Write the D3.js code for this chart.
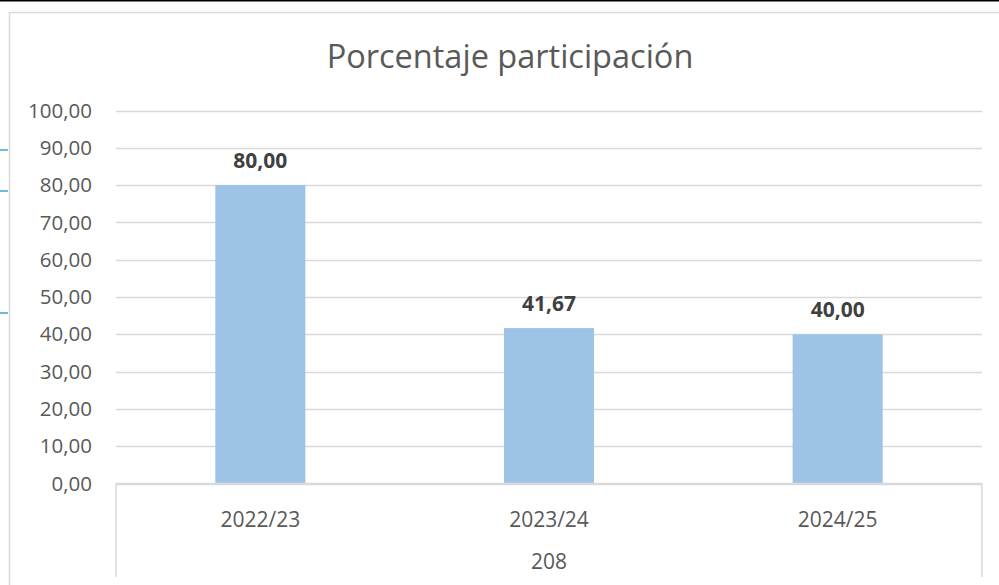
<!DOCTYPE html>
<html>
<head>
<meta charset="utf-8">
<script src="https://d3js.org/d3.v7.min.js"></script>
<style>
  html, body { margin: 0; padding: 0; background: #fff; }
  svg { display: block; }
  text { font-family: "Open Sans", "Noto Sans", sans-serif; }
</style>
</head>
<body>
<svg width="999" height="585"></svg>
<script>
var categories = ["2022/23", "2023/24", "2024/25"];
var values = [80.00, 41.67, 40.00];
var yTicks = [0, 10, 20, 30, 40, 50, 60, 70, 80, 90, 100];
var groupLabel = "208";
var title = "Porcentaje participación";

var svg = d3.select("svg"),
    width = +svg.attr("width"),
    height = +svg.attr("height");

var fmt = function(v) { return d3.format(".2f")(v).replace(".", ","); };

// outer frame bits
svg.append("line")
  .attr("x1", 0).attr("x2", width).attr("y1", 0.5).attr("y2", 0.5)
  .style("stroke", "#000").style("stroke-width", 2);

svg.append("rect")
  .attr("x", 9.5).attr("y", 12.5)
  .attr("width", 1100).attr("height", 700)
  .style("fill", "none").style("stroke", "#d9d9d9").style("stroke-width", 1.5);

[150, 191, 313].forEach(function(yy) {
  svg.append("line")
    .attr("x1", 0).attr("x2", 8).attr("y1", yy).attr("y2", yy)
    .style("stroke", "#41a5d8").style("stroke-width", 1.5);
});

var plotLeft = 116, plotRight = 982, plotTop = 110.5, plotBottom = 483.5;

var x = d3.scaleBand().domain(categories).range([plotLeft, plotRight]).paddingInner(0.688).paddingOuter(0.344);
var y = d3.scaleLinear().domain([0, 100]).range([plotBottom, plotTop]);

// gridlines
svg.append("g")
  .selectAll("line")
  .data(yTicks)
  .enter().append("line")
  .attr("x1", plotLeft).attr("x2", plotRight)
  .attr("y1", function(d) { return Math.round(y(d)) + 0.5; })
  .attr("y2", function(d) { return Math.round(y(d)) + 0.5; })
  .style("stroke", "#d9d9d9").style("stroke-width", 1.5);

// y labels
svg.append("g")
  .selectAll("text")
  .data(yTicks)
  .enter().append("text")
  .attr("x", 92)
  .attr("y", function(d) { return y(d); })
  .attr("dy", "0.35em")
  .attr("text-anchor", "end")
  .style("font-size", "20.5px")
  .style("fill", "#595959")
  .text(fmt);

// bars
svg.append("g")
  .selectAll("rect")
  .data(values)
  .enter().append("rect")
  .attr("x", function(d, i) { return x(categories[i]); })
  .attr("width", x.bandwidth())
  .attr("y", function(d) { return y(d); })
  .attr("height", function(d) { return plotBottom - y(d); })
  .style("fill", "#9dc3e6");

// redraw baseline on top
svg.append("line")
  .attr("x1", plotLeft).attr("x2", plotRight).attr("y1", plotBottom).attr("y2", plotBottom)
  .style("stroke", "#d9d9d9").style("stroke-width", 1.5);

// category group separators
[plotLeft, plotRight].forEach(function(xx) {
  svg.append("line")
    .attr("x1", xx).attr("x2", xx).attr("y1", plotBottom).attr("y2", 577)
    .style("stroke", "#d9d9d9").style("stroke-width", 1.5);
});

// data labels
svg.append("g")
  .selectAll("text")
  .data(values)
  .enter().append("text")
  .attr("x", function(d, i) { return x(categories[i]) + x.bandwidth() / 2; })
  .attr("y", function(d) { return y(d) - 17; })
  .attr("text-anchor", "middle")
  .style("font-size", "21px")
  .style("font-weight", "bold")
  .style("fill", "#404040")
  .text(fmt);

// x labels
svg.append("g")
  .selectAll("text")
  .data(categories)
  .enter().append("text")
  .attr("x", function(d) { return x(d) + x.bandwidth() / 2; })
  .attr("y", 527)
  .attr("text-anchor", "middle")
  .style("font-size", "21px")
  .style("fill", "#595959")
  .text(function(d) { return d; });

svg.append("text")
  .attr("x", (plotLeft + plotRight) / 2)
  .attr("y", 569)
  .attr("text-anchor", "middle")
  .style("font-size", "21px")
  .style("fill", "#595959")
  .text(groupLabel);

svg.append("text")
  .attr("x", 510)
  .attr("y", 68)
  .attr("text-anchor", "middle")
  .style("font-size", "32.5px")
  .style("fill", "#595959")
  .text(title);
</script>
</body>
</html>
